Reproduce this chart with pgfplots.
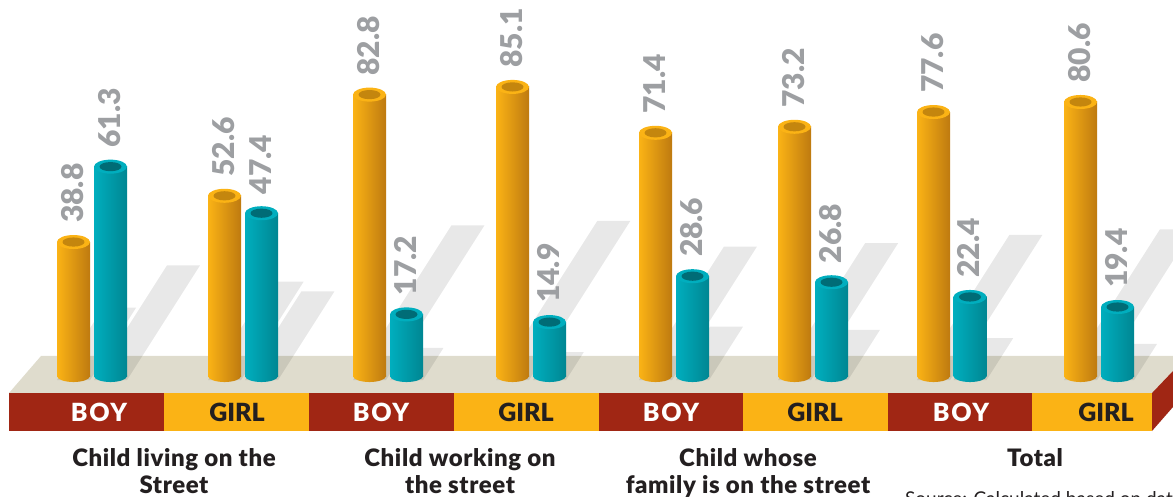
\documentclass[border=0pt]{standalone}
\usepackage{fontspec}
\setmainfont{Lato}[BoldFont={Lato Black}]
\usepackage{pgfplots}
\pgfplotsset{compat=1.18}
\definecolor{orangeL}{RGB}{251,179,21}
\definecolor{orangeR}{RGB}{190,122,16}
\definecolor{orangeIn}{RGB}{196,134,14}
\definecolor{tealL}{RGB}{0,174,190}
\definecolor{tealR}{RGB}{0,134,146}
\definecolor{tealIn}{RGB}{0,108,118}
\definecolor{floorc}{RGB}{223,220,205}
\definecolor{stripred}{RGB}{160,38,20}
\definecolor{labelgray}{RGB}{157,159,162}
\definecolor{inkc}{RGB}{35,31,32}

% cylinder ends, sizes in px (1pt = 1px here); units needed, bare numbers mean axis cs
\pgfdeclareplotmark{otop}{%
  \fill[orangeL,draw=none] (0pt,0pt) ellipse [x radius=16.5pt,y radius=7pt];
  \fill[orangeIn,draw=none] (0pt,0pt) ellipse [x radius=11pt,y radius=4.6pt];}
\pgfdeclareplotmark{ttop}{%
  \fill[tealL,draw=none] (0pt,0pt) ellipse [x radius=16.5pt,y radius=7pt];
  \fill[tealIn,draw=none] (0pt,0pt) ellipse [x radius=11pt,y radius=4.6pt];}
\pgfdeclareplotmark{obot}{%
  \shade[draw=none,left color=orangeL,right color=orangeR] (-16.5pt,0.5pt) -- (-16.5pt,0pt) arc [start angle=180,end angle=360,x radius=16.5pt,y radius=6pt] -- (16.5pt,0.5pt) -- cycle;}
\pgfdeclareplotmark{tbot}{%
  \shade[draw=none,left color=tealL,right color=tealR] (-16.5pt,0.5pt) -- (-16.5pt,0pt) arc [start angle=180,end angle=360,x radius=16.5pt,y radius=6pt] -- (16.5pt,0.5pt) -- cycle;}

\newcommand{\baseval}{-1.2}
% #1 left px, #2 value: slanted shadow behind a bar
\newcommand{\barshadow}[2]{%
  \pgfmathsetmacro{\xa}{#1+33}
  \pgfmathsetmacro{\xb}{#1+33+1.19*#2}
  \pgfmathsetmacro{\xc}{#1+1.19*#2}
  \pgfmathsetmacro{\ytop}{-2.4+0.558*#2}
  \addplot[draw=none,fill=black,fill opacity=0.09,forget plot] coordinates {(#1,-2.4) (\xa,-2.4) (\xb,\ytop) (\xc,\ytop)} --cycle;
}
% #1 left px, #2 value, #3 o/t, #4 colour stem
\newcommand{\cyl}[4]{%
  \pgfmathsetmacro{\xr}{#1+33}
  \pgfmathsetmacro{\xm}{#1+16.5}
  \addplot[draw=none,left color=#4L,right color=#4R,forget plot] coordinates {(#1,\baseval) (#1,#2) (\xr,#2) (\xr,\baseval)} --cycle;
  \addplot[only marks,mark=#3bot,mark options={draw=none},forget plot] coordinates {(\xm,\baseval)};
  \addplot[only marks,mark=#3top,mark options={draw=none},forget plot,
    nodes near coords,
    every node near coord/.style={rotate=90,anchor=west,font=\fontsize{30}{30}\selectfont\bfseries,text=labelgray,inner sep=0pt,xshift=19pt,yshift=1pt}]
    coordinates {(\xm,#2)};
}
\newcommand{\stripboy}[1]{\node[font=\fontsize{25}{25}\selectfont\bfseries\addfontfeatures{LetterSpace=7},text=white,inner sep=0pt] at (axis cs:#1,-12.0) {BOY};}
\newcommand{\stripgirl}[1]{\node[font=\fontsize{25}{25}\selectfont\bfseries,text=inkc,inner sep=0pt] at (axis cs:#1,-12.0) {GIRL};}
\newcommand{\grouptitle}[2]{\node[font=\fontsize{24}{27}\selectfont\bfseries\addfontfeatures{LetterSpace=2.5},text=inkc,align=center,anchor=north] at (axis cs:#1,-21.8) {#2};}

\begin{document}
\begin{tikzpicture}
\clip (0,0) rectangle (1173pt,496pt);
\begin{axis}[
  at={(0,0)},anchor=south west,
  scale only axis,
  width=1173pt,height=496pt,
  xmin=0,xmax=1173,
  ymin=-37.01,ymax=111.04,
  hide axis,
  clip=false,
  /pgf/number format/assume math mode=true,
  /pgf/number format/fixed,
  /pgf/number format/precision=1,
]
% platform
\addplot[draw=none,fill=floorc,forget plot] coordinates {(9,-6.27) (41,4.78) (1173,4.78) (1173,0.30) (1152,-6.27)} --cycle;
\addplot[draw=none,fill=stripred,forget plot] coordinates {(1152,-6.27) (1173,0.30) (1173,-10.45) (1152,-17.61)} --cycle;
% front strip
\addplot[draw=none,fill=stripred,forget plot] coordinates {(9,-6.27) (164,-6.27) (164,-17.61) (9,-17.61)} --cycle;
\addplot[draw=none,fill=orangeL,forget plot] coordinates {(164,-6.27) (309,-6.27) (309,-17.61) (164,-17.61)} --cycle;
\addplot[draw=none,fill=stripred,forget plot] coordinates {(309,-6.27) (454,-6.27) (454,-17.61) (309,-17.61)} --cycle;
\addplot[draw=none,fill=orangeL,forget plot] coordinates {(454,-6.27) (599,-6.27) (599,-17.61) (454,-17.61)} --cycle;
\addplot[draw=none,fill=stripred,forget plot] coordinates {(599,-6.27) (743,-6.27) (743,-17.61) (599,-17.61)} --cycle;
\addplot[draw=none,fill=orangeL,forget plot] coordinates {(743,-6.27) (888,-6.27) (888,-17.61) (743,-17.61)} --cycle;
\addplot[draw=none,fill=stripred,forget plot] coordinates {(888,-6.27) (1032,-6.27) (1032,-17.61) (888,-17.61)} --cycle;
\addplot[draw=none,fill=orangeL,forget plot] coordinates {(1032,-6.27) (1152,-6.27) (1152,-17.61) (1032,-17.61)} --cycle;

% shadows
\barshadow{57}{38.8}\barshadow{94}{61.3}
\barshadow{208}{52.6}\barshadow{245}{47.4}
\barshadow{353}{82.8}\barshadow{390}{17.2}
\barshadow{496}{85.1}\barshadow{533}{14.9}
\barshadow{639}{71.4}\barshadow{676}{28.6}
\barshadow{778}{73.2}\barshadow{815}{26.8}
\barshadow{917}{77.6}\barshadow{953.5}{22.4}
\barshadow{1064}{80.6}\barshadow{1101}{19.4}

% bars
\cyl{57}{38.8}{o}{orange}\cyl{94}{61.3}{t}{teal}
\cyl{208}{52.6}{o}{orange}\cyl{245}{47.4}{t}{teal}
\cyl{353}{82.8}{o}{orange}\cyl{390}{17.2}{t}{teal}
\cyl{496}{85.1}{o}{orange}\cyl{533}{14.9}{t}{teal}
\cyl{639}{71.4}{o}{orange}\cyl{676}{28.6}{t}{teal}
\cyl{778}{73.2}{o}{orange}\cyl{815}{26.8}{t}{teal}
\cyl{917}{77.6}{o}{orange}\cyl{953.5}{22.4}{t}{teal}
\cyl{1064}{80.6}{o}{orange}\cyl{1101}{19.4}{t}{teal}

% strip labels
\stripboy{99}\stripgirl{237}
\stripboy{381}\stripgirl{526}
\stripboy{671}\stripgirl{815}
\stripboy{961}\stripgirl{1106}
% group titles
\grouptitle{174}{Child living on the\\Street}
\grouptitle{460}{Child working on\\the street}
\grouptitle{748}{Child whose\\family is on the street}
\grouptitle{1035}{Total}
\node[font=\fontsize{19}{19}\selectfont,text=inkc,anchor=north west,inner sep=0pt] at (axis cs:905,-35.7) {Source: Calculated based on data};
\end{axis}
\end{tikzpicture}
\end{document}
